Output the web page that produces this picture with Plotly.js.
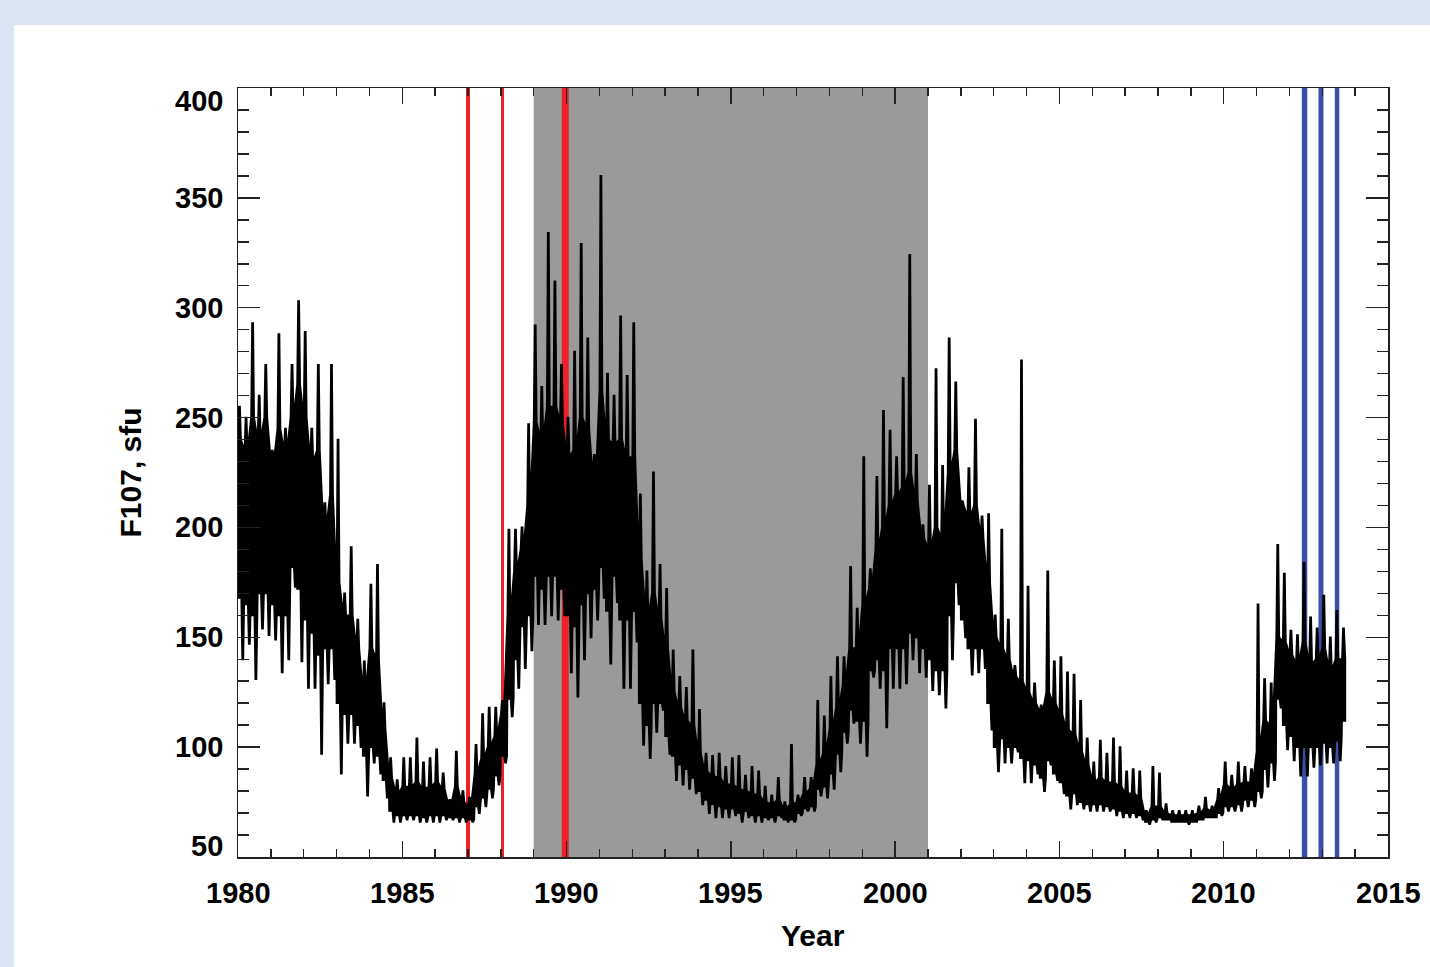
<!DOCTYPE html>
<html>
<head>
<meta charset="utf-8">
<script src="https://cdn.plot.ly/plotly-3.0.1.min.js"></script>
<style>
  html, body { margin: 0; padding: 0; background: #dbe5f1; width: 1430px; height: 967px; overflow: hidden; }
  #chart { position: absolute; left: 14px; top: 25px; width: 1416px; height: 942px; background: #ffffff; }
</style>
</head>
<body>
<div id="chart"></div>
<script>
// Sample times (start of each 0.2-year bin)
const years = [
1980.0,1980.2,1980.4,1980.6,1980.8,1981.0,1981.2,1981.4,1981.6,1981.8,
1982.0,1982.2,1982.4,1982.6,1982.8,1983.0,1983.2,1983.4,1983.6,1983.8,
1984.0,1984.2,1984.4,1984.6,1984.8,1985.0,1985.2,1985.4,1985.6,1985.8,
1986.0,1986.2,1986.4,1986.6,1986.8,1987.0,1987.2,1987.4,1987.6,1987.8,
1988.0,1988.2,1988.4,1988.6,1988.8,1989.0,1989.2,1989.4,1989.6,1989.8,
1990.0,1990.2,1990.4,1990.6,1990.8,1991.0,1991.2,1991.4,1991.6,1991.8,
1992.0,1992.2,1992.4,1992.6,1992.8,1993.0,1993.2,1993.4,1993.6,1993.8,
1994.0,1994.2,1994.4,1994.6,1994.8,1995.0,1995.2,1995.4,1995.6,1995.8,
1996.0,1996.2,1996.4,1996.6,1996.8,1997.0,1997.2,1997.4,1997.6,1997.8,
1998.0,1998.2,1998.4,1998.6,1998.8,1999.0,1999.2,1999.4,1999.6,1999.8,
2000.0,2000.2,2000.4,2000.6,2000.8,2001.0,2001.2,2001.4,2001.6,2001.8,
2002.0,2002.2,2002.4,2002.6,2002.8,2003.0,2003.2,2003.4,2003.6,2003.8,
2004.0,2004.2,2004.4,2004.6,2004.8,2005.0,2005.2,2005.4,2005.6,2005.8,
2006.0,2006.2,2006.4,2006.6,2006.8,2007.0,2007.2,2007.4,2007.6,2007.8,
2008.0,2008.2,2008.4,2008.6,2008.8,2009.0,2009.2,2009.4,2009.6,2009.8,
2010.0,2010.2,2010.4,2010.6,2010.8,2011.0,2011.2,2011.4,2011.6,2011.8,
2012.0,2012.2,2012.4,2012.6,2012.8,2013.0,2013.2,2013.4,2013.6
];
// Highest daily F10.7 (spike tops) in each bin (sfu)
const f107High = [
255,250,293,260,274,235,288,245,274,303,
289,245,274,211,274,240,170,191,158,139,
174,183,120,95,85,95,95,104,93,95,
99,88,76,98,80,77,101,115,118,118,
121,199,199,200,247,292,264,334,312,274,
250,280,329,286,233,360,270,260,296,269,
293,215,180,225,183,172,144,132,127,144,
117,97,96,97,91,95,96,87,91,89,
82,78,86,75,101,78,86,86,121,114,
132,141,141,182,163,232,181,223,253,244,
232,268,324,233,201,219,272,228,286,266,
212,227,249,205,206,160,199,158,137,276,
173,129,119,180,139,141,134,133,121,104,
93,103,97,104,100,89,90,89,71,91,
88,74,71,71,71,71,73,77,73,81,
93,87,93,91,90,165,131,129,192,179,
153,151,184,159,154,169,150,162,154
];
// Upper edge of the dense body in each bin (sfu)
const bodyTop = [
240,235,250,240,250,230,245,235,250,265,
250,230,235,200,215,175,160,160,145,125,
145,140,108,86,79,82,82,84,81,82,
84,81,74,82,75,73,88,95,100,105,
115,160,180,190,210,248,240,255,255,248,
232,235,250,245,222,262,240,238,240,232,
232,185,160,170,158,145,125,118,112,110,
97,89,87,86,83,83,81,80,79,78,
75,74,76,72,74,75,79,81,92,97,
108,118,128,145,145,165,172,190,200,210,
215,218,225,212,195,190,200,195,225,235,
210,205,210,195,175,150,145,140,132,130,
125,120,116,125,120,115,108,106,98,92,
84,86,84,84,82,79,79,77,69,73,
73,70,69,69,69,69,70,72,71,76,
83,81,83,84,84,98,112,110,150,148,
142,138,148,138,140,145,135,140,140
];
// Lower edge of the dense body in each bin (sfu)
const bodyBottom = [
168,165,160,170,170,165,160,160,182,172,
158,152,142,145,145,120,115,115,110,96,
100,96,85,71,69,69,69,69,68,69,
69,69,68,68,68,67,73,77,81,87,
96,122,140,155,160,178,172,178,178,172,
160,155,165,170,172,182,162,178,158,158,
162,120,110,120,120,105,96,92,90,86,
80,76,74,73,72,72,70,71,69,69,
68,68,69,67,67,70,72,73,81,82,
88,97,107,117,112,112,135,140,135,145,
145,145,152,150,145,140,135,135,160,175,
158,145,145,145,120,100,104,100,100,95,
94,92,86,94,88,84,78,79,75,74,
74,74,73,72,71,70,70,69,66,67,
68,67,66,66,66,66,67,68,68,70,
73,73,74,76,76,80,90,93,122,110,
105,100,100,100,100,102,100,103,112
];
// Lowest daily F10.7 (spike bottoms) in each bin (sfu)
const f107Low = [
140,147,131,154,151,149,134,140,173,139,
127,127,97,129,131,88,102,102,100,78,
93,88,77,66,66,67,67,66,66,66,
66,67,67,66,66,66,70,73,77,83,
93,114,127,136,144,156,156,160,158,160,
134,123,140,150,158,168,138,166,127,127,
148,101,95,107,117,97,85,83,81,79,
74,70,68,68,68,69,66,68,66,66,
67,66,68,66,66,69,71,71,78,77,
81,89,102,111,102,96,132,127,109,127,
127,129,140,134,132,126,124,118,140,165,
150,133,134,136,108,89,93,93,98,84,
84,88,80,92,85,79,72,74,72,71,
71,71,71,69,68,68,68,67,65,66,
67,67,66,66,65,66,67,68,68,69,
71,71,71,73,73,77,82,85,118,99,
94,87,87,91,92,93,93,94,111
];
// Event markers (years)
const redEvents = [1987.0, 1988.05, 1989.96];
const redWidths = [4, 3, 7];
const blueEvents = [2012.46, 2012.96, 2013.45];
const blueWidths = [5.5, 5, 4.5];
const shadedSpan = [1989.0, 2001.0];
const xTickVals = [1980, 1985, 1990, 1995, 2000, 2005, 2010, 2015];
const yTickVals = [50, 100, 150, 200, 250, 300, 350, 400];

// Closed outline: upper edge with up-spikes, then lower edge (reversed) with down-spikes
const upX = [], upY = [], loX = [], loY = [];
for (let i = 0; i < years.length; i++) {
  const t = years[i];
  upX.push(t, t + 0.03, t + 0.06, t + 0.09);
  upY.push(bodyTop[i], f107High[i], f107High[i], bodyTop[i]);
  loX.push(t, t + 0.1, t + 0.13, t + 0.16, t + 0.19);
  loY.push(bodyBottom[i], bodyBottom[i], f107Low[i], f107Low[i], bodyBottom[i]);
}
const tEnd = years[years.length - 1] + 0.1;
const polyX = [], polyY = [];
for (let k = 0; k < upX.length; k++) { polyX.push(upX[k]); polyY.push(upY[k]); }
polyX.push(tEnd); polyY.push(bodyTop[bodyTop.length - 1]);
polyX.push(tEnd); polyY.push(bodyBottom[bodyBottom.length - 1]);
for (let k = loX.length - 1; k >= 0; k--) { if (loX[k] < tEnd) { polyX.push(loX[k]); polyY.push(loY[k]); } }
polyX.push(polyX[0]); polyY.push(polyY[0]);

const FONT = 'Liberation Sans, Arial, Helvetica, sans-serif';
const shapes = [];
shapes.push({type:'rect', xref:'x', yref:'paper', x0:shadedSpan[0], x1:shadedSpan[1], y0:0, y1:1,
  fillcolor:'#9a9a9a', line:{width:0}, layer:'below'});
redEvents.forEach((x, i) => shapes.push({type:'line', xref:'x', yref:'paper', x0:x, x1:x, y0:0, y1:1,
  line:{color:'#ee2128', width:redWidths[i]}, layer:'below'}));
blueEvents.forEach((x, i) => shapes.push({type:'line', xref:'x', yref:'paper', x0:x, x1:x, y0:0, y1:1,
  line:{color:'#3a50a6', width:blueWidths[i]}, layer:'below'}));

const annotations = [];
xTickVals.forEach(v => annotations.push({x:v, xref:'x', y:0, yref:'paper', yshift:-36,
  text:String(v), showarrow:false, xanchor:'center', yanchor:'middle',
  font:{family:FONT, size:29, color:'#000', weight:'bold'}}));
yTickVals.forEach(v => {
  let ys_ = 0;
  if (v === 400) ys_ = -13;
  if (v === 50) ys_ = 11;
  annotations.push({x:0, xref:'paper', xshift:-13, y:v, yref:'y', yshift:ys_,
    text:String(v), showarrow:false, xanchor:'right', yanchor:'middle',
    font:{family:FONT, size:29, color:'#000', weight:'bold'}});
});
annotations.push({x:0.5, xref:'paper', y:0, yref:'paper', yshift:-78, text:'Year', showarrow:false,
  xanchor:'center', yanchor:'middle', font:{family:FONT, size:30, color:'#000', weight:'bold'}});
annotations.push({x:0, xref:'paper', xshift:-108, y:0.5, yref:'paper', text:'F107, sfu', showarrow:false,
  textangle:-90, xanchor:'center', yanchor:'middle', font:{family:FONT, size:30, color:'#000', weight:'bold'}});

const axisCommon = {
  showgrid:false, zeroline:false, showline:true, linecolor:'#222', linewidth:1.5,
  ticks:'inside', mirror:'ticks', tickcolor:'#222', tickwidth:1.5, showticklabels:false
};

const layout = {
  width:1416, height:942,
  margin:{l:224, r:42, t:63, b:110},
  paper_bgcolor:'#ffffff', plot_bgcolor:'#ffffff',
  showlegend:false,
  xaxis: Object.assign({}, axisCommon, {range:[1980, 2015], tick0:1980, dtick:5, ticklen:16,
    minor:{dtick:1, ticks:'inside', ticklen:8, tickcolor:'#222', tickwidth:1.5}}),
  yaxis: Object.assign({}, axisCommon, {range:[50, 400], tick0:50, dtick:50, ticklen:22,
    minor:{dtick:10, ticks:'inside', ticklen:11, tickcolor:'#222', tickwidth:1.5}}),
  shapes: shapes,
  annotations: annotations
};

const trace = {x:polyX, y:polyY, type:'scatter', mode:'lines', fill:'toself', fillcolor:'#000',
  line:{color:'#000', width:1.8}, hoverinfo:'skip'};

Plotly.newPlot('chart', [trace], layout, {staticPlot:true, displayModeBar:false});
</script>
</body>
</html>
